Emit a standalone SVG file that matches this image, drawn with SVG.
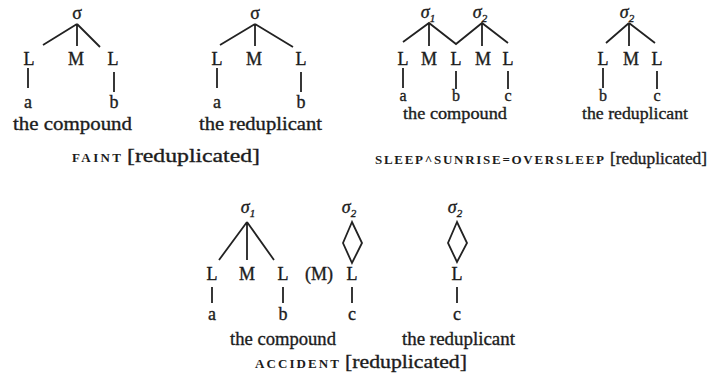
<svg xmlns="http://www.w3.org/2000/svg" width="713" height="376" viewBox="0 0 713 376">
  <style>
    text { font-family: "Liberation Serif", "Times New Roman", serif; fill: #1c1c1c; stroke: #1c1c1c; stroke-width: 0.35; }
    .n { font-size: 18px; text-anchor: middle; }
    .m { font-size: 16px; text-anchor: middle; }
    .s { font-size: 18px; text-anchor: middle; font-style: italic; }
    .sub { font-size: 11px; font-style: italic; }
    .lab { font-size: 19px; }
    .sc { font-size: 13px; font-weight: bold; stroke-width: 0; letter-spacing: 1px; }
    .e { stroke: #222; stroke-width: 1.8; fill: none; stroke-linejoin: miter; }
  </style>
  <rect width="713" height="376" fill="#ffffff"/>

  <!-- connectors: association lines of every tree -->
  <g id="connectors" class="e">
    <!-- faint: compound -->
    <path d="M77 24 L43 45 M77 24 L77 46 M77 24 L100 47"/>
    <path d="M28 68 V88 M114 72 V92"/>
    <!-- faint: reduplicant -->
    <path d="M255 24 L220 45 M255 24 L255 46 M255 24 L293 47"/>
    <path d="M217 68 V88 M301 72 V92"/>
    <!-- sleep^sunrise: compound -->
    <path d="M403 42 L429 23 L456 44 L482 23 L508 43 M429 23 V46 M482 23 V46"/>
    <path d="M403 68 V88 M456 71 V89 M508 71 V89"/>
    <!-- sleep^sunrise: reduplicant -->
    <path d="M629 23 L606 43 M629 23 V46 M629 23 L655 43"/>
    <path d="M603 68 V88 M657 71 V89"/>
    <!-- accident: compound -->
    <path d="M247 222 L219 260 M247 222 V260 M247 222 L274 260"/>
    <path d="M352 222 L343 243 L352 263 L362 243 Z"/>
    <path d="M212 287 V303 M283 287 V303 M352 287 V303"/>
    <!-- accident: reduplicant -->
    <path d="M457 222 L448 243 L457 262 L467 243 Z"/>
    <path d="M457 287 V303"/>
  </g>

  <!-- FAINT, compound -->
  <g id="faint-compound">
    <text class="n" x="77" y="19">σ</text>
    <text class="n" x="29" y="65">L</text>
    <text class="n" x="76" y="65">M</text>
    <text class="n" x="113" y="65">L</text>
    <text class="n" x="28" y="108">a</text>
    <text class="n" x="114" y="108">b</text>
    <text class="lab" x="13" y="130" textLength="119" lengthAdjust="spacingAndGlyphs">the compound</text>
  </g>

  <!-- FAINT, reduplicant -->
  <g id="faint-reduplicant">
    <text class="n" x="255" y="19">σ</text>
    <text class="n" x="217" y="65">L</text>
    <text class="n" x="254" y="65">M</text>
    <text class="n" x="301" y="65">L</text>
    <text class="n" x="217" y="108">a</text>
    <text class="n" x="301" y="108">b</text>
    <text class="lab" x="199" y="130" textLength="123" lengthAdjust="spacingAndGlyphs">the reduplicant</text>
  </g>

  <g id="faint-caption">
    <text class="sc" x="72" y="162" textLength="50" lengthAdjust="spacing">FAINT</text>
    <text class="lab" x="127" y="162" textLength="133" lengthAdjust="spacingAndGlyphs">[reduplicated]</text>
  </g>

  <!-- SLEEP^SUNRISE, compound -->
  <g id="sleep-compound">
    <text class="s" x="428" y="18">σ<tspan class="sub" dy="4">1</tspan></text>
    <text class="s" x="480" y="18">σ<tspan class="sub" dy="4">2</tspan></text>
    <text class="n" x="403" y="65">L</text>
    <text class="n" x="429" y="65">M</text>
    <text class="n" x="456" y="65">L</text>
    <text class="n" x="483" y="65">M</text>
    <text class="n" x="508" y="65">L</text>
    <text class="m" x="403" y="101">a</text>
    <text class="m" x="456" y="101">b</text>
    <text class="m" x="508" y="101">c</text>
    <text class="lab" x="403" y="119" style="font-size:17px" textLength="104" lengthAdjust="spacingAndGlyphs">the compound</text>
  </g>

  <!-- SLEEP^SUNRISE, reduplicant -->
  <g id="sleep-reduplicant">
    <text class="s" x="627" y="18">σ<tspan class="sub" dy="4">2</tspan></text>
    <text class="n" x="603" y="65">L</text>
    <text class="n" x="631" y="65">M</text>
    <text class="n" x="657" y="65">L</text>
    <text class="m" x="603" y="101">b</text>
    <text class="m" x="657" y="101">c</text>
    <text class="lab" x="582" y="119" style="font-size:17px" textLength="106" lengthAdjust="spacingAndGlyphs">the reduplicant</text>
  </g>

  <g id="sleep-caption">
    <text class="sc" x="375" y="164" textLength="230" lengthAdjust="spacing">SLEEP^SUNRISE=OVERSLEEP</text>
    <text class="lab" x="610" y="164" style="font-size:17px" textLength="97" lengthAdjust="spacingAndGlyphs">[reduplicated]</text>
  </g>

  <!-- ACCIDENT, compound -->
  <g id="accident-compound">
    <text class="s" x="248" y="213">σ<tspan class="sub" dy="4">1</tspan></text>
    <text class="s" x="349" y="213">σ<tspan class="sub" dy="4">2</tspan></text>
    <text class="n" x="212" y="280">L</text>
    <text class="n" x="247" y="280">M</text>
    <text class="n" x="283" y="280">L</text>
    <text class="n" x="319" y="280">(M)</text>
    <text class="n" x="352" y="280">L</text>
    <text class="n" x="212" y="320">a</text>
    <text class="n" x="283" y="320">b</text>
    <text class="n" x="352" y="320">c</text>
    <text class="lab" x="230" y="345" textLength="106" lengthAdjust="spacingAndGlyphs">the compound</text>
  </g>

  <!-- ACCIDENT, reduplicant -->
  <g id="accident-reduplicant">
    <text class="s" x="455" y="213">σ<tspan class="sub" dy="4">2</tspan></text>
    <text class="n" x="457" y="280">L</text>
    <text class="n" x="457" y="320">c</text>
    <text class="lab" x="402" y="345" textLength="113" lengthAdjust="spacingAndGlyphs">the reduplicant</text>
  </g>

  <g id="accident-caption">
    <text class="sc" x="255" y="368" textLength="85" lengthAdjust="spacing">ACCIDENT</text>
    <text class="lab" x="345" y="368" textLength="122" lengthAdjust="spacingAndGlyphs">[reduplicated]</text>
  </g>
</svg>
